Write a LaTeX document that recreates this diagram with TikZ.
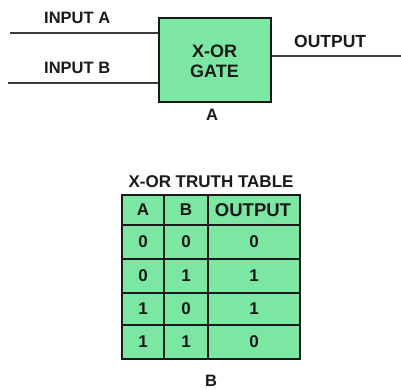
\documentclass[tikz,border=0pt]{standalone}
\usepackage{fontspec}
\setmainfont{Liberation Sans}
\definecolor{gatefill}{HTML}{7CE6A3}
\definecolor{ink}{HTML}{1A1A1A}
\begin{document}
\begin{tikzpicture}[x=1pt,y=-1pt,
  lbl/.style={font=\fontsize{16.5}{18}\selectfont\bfseries, text=ink, inner sep=0pt},
  cell/.style={font=\fontsize{17}{18}\selectfont\bfseries, text=ink, inner sep=0pt},
  wire/.style={draw=ink!85, line width=1.5pt}]
\useasboundingbox (0,0) rectangle (401,390);
% gate
\node[draw=ink, line width=2pt, fill=gatefill, minimum width=112pt, minimum height=84pt,
      inner sep=0pt, anchor=north west] (gate) at (157.5,17) {};
\node[lbl, font=\fontsize{18}{19}\selectfont\bfseries, align=center] (gatetxt) at ([yshift=-1pt]gate.center) {X-OR\\[1pt]GATE};
\coordinate (ina) at (10,33);
\coordinate (inb) at (8,83);
\coordinate (out) at (401,56);
\draw[wire] (ina) -- (ina -| gate.west);
\draw[wire] (inb) -- (inb -| gate.west);
\draw[wire] (out -| gate.east) -- (out);
\node[lbl, anchor=base west] (la) at (44,24) {INPUT A};
\node[lbl, anchor=base west] (lb) at (44,74) {INPUT B};
\node[lbl, font=\fontsize{17.5}{18}\selectfont\bfseries, anchor=base west] (lo) at (294,48) {OUTPUT};
\node[lbl, anchor=base] (capa) at (212,121) {A};
% table
\node[lbl, font=\fontsize{17}{18}\selectfont\bfseries, anchor=base] (title) at (211,187) {X-OR TRUTH TABLE};
\fill[gatefill] (122,195) rectangle (300,359);
\foreach \y in {225,259,293,325} \draw[ink, line width=1.4pt] (122,\y) -- (300,\y);
\foreach \x in {164,208} \draw[ink, line width=1.4pt] (\x,195) -- (\x,359);
\draw[ink, line width=2.4pt] (122,195) rectangle (300,359);
\node[cell] (hA) at (143,210) {A};
\node[cell] (hB) at (186,210) {B};
\node[cell, font=\fontsize{18.5}{19}\selectfont\bfseries] (hO) at (253,210) {OUTPUT};
\foreach \r/\yy/\a/\b/\o in {1/242/0/0/0, 2/276/0/1/1, 3/309/1/0/1, 4/342/1/1/0} {
  \node[cell] (a\r) at (143,\yy) {\a};
  \node[cell] (b\r) at (186,\yy) {\b};
  \node[cell] (o\r) at (254,\yy) {\o};
}
\node[lbl, anchor=base] (capb) at (211,386) {B};
\end{tikzpicture}
\end{document}
